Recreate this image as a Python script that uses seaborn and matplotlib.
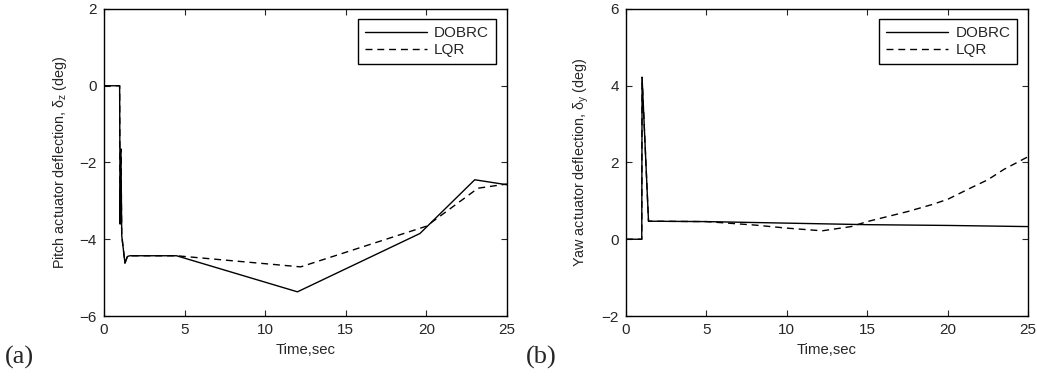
import numpy as np
import pandas as pd
import matplotlib
matplotlib.use("Agg")
import matplotlib.pyplot as plt
import seaborn as sns

# ---- data ----
pitch_dobrc_t = [0, 0.97, 1.0, 1.05, 1.1, 1.3, 1.45, 1.6, 4.5, 12.0, 19.6, 23.0, 25.0]
pitch_dobrc_v = [0, 0, -3.6, -1.65, -3.9, -4.62, -4.45, -4.43, -4.43, -5.37, -3.85, -2.45, -2.58]
pitch_lqr_t = [0, 0.97, 1.0, 1.05, 1.1, 1.3, 1.45, 1.6, 4.5, 12.2, 20.0, 23.2, 25.0]
pitch_lqr_v = [0, 0, -3.6, -1.65, -3.9, -4.62, -4.45, -4.43, -4.43, -4.72, -3.66, -2.67, -2.56]

yaw_dobrc_t = [0, 0.98, 1.0, 1.4, 5, 10, 15, 20, 25]
yaw_dobrc_v = [0, 0, 4.22, 0.47, 0.46, 0.42, 0.38, 0.36, 0.33]
yaw_lqr_t = [0, 0.98, 1.0, 1.4, 5, 8, 10, 12.2, 14, 15, 17.5, 19, 20, 21.5, 22.5, 23.5, 25]
yaw_lqr_v = [0, 0, 4.22, 0.47, 0.46, 0.37, 0.29, 0.22, 0.33, 0.46, 0.72, 0.9, 1.04, 1.35, 1.55, 1.82, 2.15]

series_names = ["DOBRC", "LQR"]
x_ticks = [0, 5, 10, 15, 20, 25]
pitch_yticks = [-6, -4, -2, 0, 2]
yaw_yticks = [-2, 0, 2, 4, 6]

sns.set_style("ticks")
plt.rcParams["font.family"] = ["Liberation Sans", "DejaVu Sans"]
plt.rcParams["mathtext.default"] = "regular"

fig = plt.figure(figsize=(10.37, 3.78), dpi=100)
W, H = 1037, 378
ax1 = fig.add_axes([104 / W, 1 - 316 / H, (507 - 104) / W, (316 - 9) / H])
ax2 = fig.add_axes([626 / W, 1 - 316 / H, (1028 - 626) / W, (316 - 9) / H])

def make_df(t1, v1, t2, v2):
    return pd.concat([
        pd.DataFrame({"t": t1, "v": v1, "s": series_names[0]}),
        pd.DataFrame({"t": t2, "v": v2, "s": series_names[1]}),
    ], ignore_index=True)

panels = [
    (ax1, make_df(pitch_dobrc_t, pitch_dobrc_v, pitch_lqr_t, pitch_lqr_v), pitch_yticks,
     r"Pitch actuator deflection, $\delta_z$ (deg)"),
    (ax2, make_df(yaw_dobrc_t, yaw_dobrc_v, yaw_lqr_t, yaw_lqr_v), yaw_yticks,
     r"Yaw actuator deflection, $\delta_y$ (deg)"),
]

for ax, df, yt, ylab in panels:
    sns.lineplot(data=df, x="t", y="v", hue="s", style="s",
                 palette=["black", "black"], dashes=[(None, None), (5, 3.5)],
                 sort=False, estimator=None, linewidth=1.0, ax=ax)
    ax.set_xlim(0, 25)
    ax.set_ylim(yt[0], yt[-1])
    ax.set_xticks(x_ticks)
    ax.set_yticks(yt)
    ax.set_yticklabels([f"{v}".replace("-", "\u2212") for v in yt])
    ax.tick_params(direction="in", top=True, right=True, labelsize=11,
                   length=4, width=0.8, pad=5)
    for sp in ax.spines.values():
        sp.set_linewidth(1.0)
        sp.set_color("black")
    ax.set_xlabel("Time,sec", fontsize=10.7, labelpad=4)
    ax.set_ylabel(ylab, fontsize=10.4, labelpad=8)
    handles, labels = ax.get_legend_handles_labels()
    leg = ax.legend(handles, labels, loc="upper right", fancybox=False,
                    edgecolor="black", framealpha=1, fontsize=11,
                    handlelength=4.1, handletextpad=0.45, borderpad=0.45,
                    labelspacing=0.2, borderaxespad=0,
                    bbox_to_anchor=(0.973, 0.967))
    leg.get_frame().set_linewidth(1.0)
    for h in leg.get_lines():
        h.set_linewidth(1.0)

fig.text(5 / W, 1 - 357 / H, "(a)", family=["Liberation Serif"], fontsize=19, va="center")
fig.text(526 / W, 1 - 357 / H, "(b)", family=["Liberation Serif"], fontsize=19, va="center")

fig.savefig("out.png", dpi=100)
